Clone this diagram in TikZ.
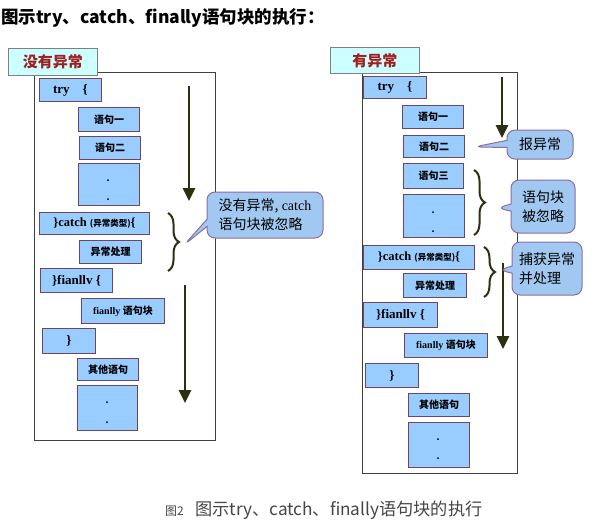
\documentclass[tikz,border=0pt]{standalone}
\usepackage{fontspec}
\setmainfont{Liberation Serif}
\newfontfamily\cjk{Noto Sans CJK SC}
\usetikzlibrary{arrows.meta,shapes.callouts,decorations.pathreplacing}
\definecolor{boxblue}{RGB}{153,204,255}
\definecolor{boxedge}{RGB}{110,70,100}
\definecolor{tagcyan}{RGB}{204,255,255}
\definecolor{tagred}{RGB}{160,30,30}
\definecolor{flowolive}{RGB}{45,48,15}
\definecolor{notefill}{RGB}{160,200,240}
\definecolor{noteedge}{RGB}{140,110,165}
\definecolor{captiongray}{RGB}{70,70,70}
\tikzset{
  sz/.style 2 args={minimum width=#1pt, minimum height=#2pt},
  stmt/.style={draw=boxedge, fill=boxblue, line width=1pt, inner sep=0pt,
    anchor=north west, font=\bfseries\fontsize{10}{11}\selectfont},
  tag/.style={draw=gray, fill=tagcyan, line width=0.8pt, inner sep=0pt,
    anchor=north west, text=tagred, font=\cjk\bfseries\fontsize{15}{16}\selectfont},
  frame/.style={draw=black!75, line width=0.8pt},
  flow/.style={draw=flowolive, line width=2.8pt, -{Triangle[length=13pt,width=12pt]}},
  curly/.style={draw=flowolive, line width=2pt, decorate, decoration={brace,amplitude=11pt}},
  note/.style={rectangle callout, draw=noteedge, fill=notefill, line width=1pt,
    rounded corners=8pt, inner sep=0pt, align=left, font=\cjk\fontsize{14}{19}\selectfont},
}
\begin{document}
\begin{tikzpicture}[x=1pt, y=-1pt]
        \fill[white] (0,0) rectangle (595,531);
        % title
        \node[anchor=west, inner sep=0pt, font=\cjk\bfseries\fontsize{17.5}{20}\selectfont] (title) at (1,18) {图示try、catch、finally语句块的执行：};
        % without exception
        \draw[frame] (34,72) rectangle (215,440);
        \node[tag, sz={89}{27}] (tagL) at (8,48) {没有异常};
        \node[stmt, sz={62}{23}] (tryL) at (39,78) {\fontsize{13}{14}\selectfont try\quad\{};
        \node[stmt, sz={61}{24}] (s1L) at (78,107) {\cjk 语句一};
        \node[stmt, sz={61}{23}] (s2L) at (79,136) {\cjk 语句二};
        \node[stmt, sz={61}{42}] (dotsL) at (78,163) {};
        \node[stmt, sz={110}{22}] (catchL) at (39,212) {\fontsize{12.5}{13}\selectfont\}catch {\cjk\fontsize{8.5}{9}\selectfont(异常类型)}\{};
        \node[stmt, sz={62}{23}] (handleL) at (79,240) {\cjk 异常处理};
        \node[stmt, sz={72}{24}] (finL) at (40,268) {\fontsize{13}{14}\selectfont\}fianllv \{};
        \node[stmt, sz={83}{25}] (fbodyL) at (81,298) {fianlly {\cjk 语句块}};
        \node[stmt, sz={53}{25}] (closeL) at (42,328) {\fontsize{13}{14}\selectfont\}};
        \node[stmt, sz={61}{22}] (restL) at (77,358) {\cjk 其他语句};
        \node[stmt, sz={60}{45}] (tailL) at (77,385) {};
        % with exception
        \draw[frame] (362,72) rectangle (517,473);
        \node[tag, sz={89}{26}] (tagR) at (330,47) {有异常};
        \node[stmt, sz={63}{22}] (tryR) at (363,76) {\fontsize{13}{14}\selectfont try\quad\{};
        \node[stmt, sz={61}{23}] (s1R) at (402,105) {\cjk 语句一};
        \node[stmt, sz={61}{22}] (s2R) at (403,135) {\cjk 语句二};
        \node[stmt, sz={60}{25}] (s3R) at (403,163) {\cjk 语句三};
        \node[stmt, sz={61}{43}] (dotsR) at (403,194) {};
        \node[stmt, sz={111}{24}] (catchR) at (363,245) {\fontsize{12.5}{13}\selectfont\}catch {\cjk\fontsize{8.5}{9}\selectfont(异常类型)}\{};
        \node[stmt, sz={63}{24}] (handleR) at (403,273) {\cjk 异常处理};
        \node[stmt, sz={74}{25}] (finR) at (363,302) {\fontsize{13}{14}\selectfont\}fianllv \{};
        \node[stmt, sz={83}{24}] (fbodyR) at (404,333) {fianlly {\cjk 语句块}};
        \node[stmt, sz={53}{24}] (closeR) at (365,363) {\fontsize{13}{14}\selectfont\}};
        \node[stmt, sz={61}{23}] (restR) at (408,393) {\cjk 其他语句};
        \node[stmt, sz={61}{45}] (tailR) at (408,422) {};
        % the dots
        \foreach \x / \y in {108/180,108/199,107/402,107/422,433/212,433/231,438/439,438/458}
        {
            \fill (\x,\y) circle (1pt);
        }
        % flow arrows
        \coordinate (flowLa) at (189,86);  \coordinate (flowLb) at (189,201);
        \coordinate (flowLc) at (185,285); \coordinate (flowLd) at (185,403);
        \coordinate (flowRa) at (502,77);  \coordinate (flowRb) at (502,138);
        \coordinate (flowRc) at (503,263); \coordinate (flowRd) at (503,349);
        \draw[flow] (flowLa) -- (flowLb);
        \draw[flow] (flowLc) -- (flowLd);
        \draw[flow] (flowRa) -- (flowRb);
        \draw[flow] (flowRc) -- (flowRd);
        % braces
        \draw[curly] (168,213) -- (168,271);
        \draw[curly] (474,170) -- (474,235);
        \draw[curly] (484,247) -- (484,297);
        % notes
        \coordinate (ptL) at (184,245);
        \coordinate (ptRa) at (474,147);
        \coordinate (ptRb) at (497,208);
        \coordinate (ptRc) at (499,270);
        \node[note, sz={116}{46}, callout absolute pointer=(ptL)] (noteL) at (265,215) {没有异常, {\rmfamily catch}\\语句块被忽略};
        \node[note, sz={66}{29}, callout absolute pointer=(ptRa)] (noteRa) at (540,144.5) {报异常};
        \node[note, sz={64}{53}, callout absolute pointer=(ptRb)] (noteRb) at (543,206.5) {语句块\\被忽略};
        \node[note, sz={70}{53}, callout absolute pointer=(ptRc)] (noteRc) at (547,268.5) {捕获异常\\并处理};
        % caption
        \node[anchor=base west, inner sep=0pt, text=captiongray, font=\cjk\fontsize{12}{13}\selectfont] (capnum) at (165,515) {图2};
        \node[anchor=base west, inner sep=0pt, text=captiongray, font=\cjk\fontsize{17.2}{19}\selectfont] (caption) at (195,515) {图示try、catch、finally语句块的执行};
    \end{tikzpicture}
\end{document}
